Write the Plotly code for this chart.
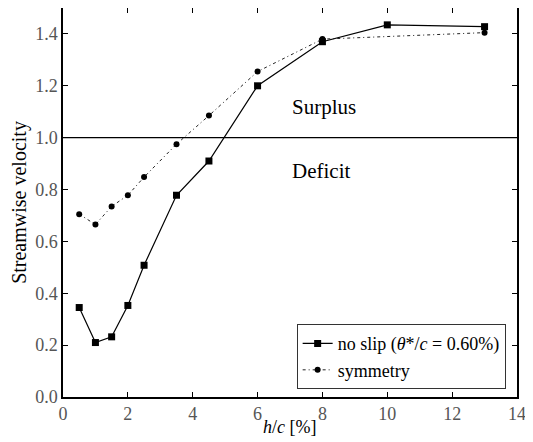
import plotly.graph_objects as go

# h/c [%] and streamwise velocity values
x_noslip = [0.5, 1.0, 1.5, 2.0, 2.5, 3.5, 4.5, 6.0, 8.0, 10.0, 13.0]
y_noslip = [0.345, 0.21, 0.232, 0.353, 0.508, 0.778, 0.91, 1.20, 1.37, 1.435, 1.428]

x_sym = [0.5, 1.0, 1.5, 2.0, 2.5, 3.5, 4.5, 6.0, 8.0, 13.0]
y_sym = [0.705, 0.665, 0.735, 0.778, 0.848, 0.975, 1.085, 1.255, 1.38, 1.405]

x_ticks = [0, 2, 4, 6, 8, 10, 12, 14]
y_ticks = [0.0, 0.2, 0.4, 0.6, 0.8, 1.0, 1.2, 1.4]

FONT = "'Liberation Serif', 'DejaVu Serif', serif"

fig = go.Figure()

fig.add_trace(go.Scatter(
    x=x_noslip, y=y_noslip,
    mode="lines+markers",
    name="no slip (<i>θ</i>*/<i>c</i> = 0.60%)",
    line=dict(color="black", width=1.2),
    marker=dict(symbol="square", size=7, color="black"),
))

fig.add_trace(go.Scatter(
    x=x_sym, y=y_sym,
    mode="lines+markers",
    name="symmetry",
    line=dict(color="#222", width=1, dash="3px,3px,1px,3px"),
    marker=dict(symbol="circle", size=6, color="black"),
))

# reference line at 1.0
fig.add_hline(y=1.0, line_width=1.2, line_color="black")

fig.add_annotation(x=7.0, y=1.12, text="Surplus", showarrow=False,
                   xanchor="left", font=dict(family=FONT, size=21, color="black"))
fig.add_annotation(x=7.0, y=0.87, text="Deficit", showarrow=False,
                   xanchor="left", font=dict(family=FONT, size=21, color="black"))

# x-axis title placed by hand to sit closer to the tick labels
fig.add_annotation(x=0.5, y=-0.078, xref="paper", yref="paper",
                   text="<i>h</i>/<i>c</i> [%]", showarrow=False,
                   xanchor="center", yanchor="middle",
                   font=dict(family=FONT, size=18, color="black"))

axis_common = dict(
    showgrid=False, zeroline=False, automargin=False,
    showline=True, linecolor="black", linewidth=1.5, mirror="ticks",
    ticks="inside", ticklen=5, tickcolor="black",
    tickfont=dict(family=FONT, size=18, color="#555"),
)

fig.update_xaxes(range=[0, 14], tickvals=x_ticks, **axis_common)
fig.update_yaxes(range=[0, 1.5], tickvals=y_ticks, tickformat=".1f",
                 title=dict(text="Streamwise velocity", font=dict(family=FONT, size=20, color="black"), standoff=4),
                 **axis_common)

# page body has an 8px margin, so the figure is shrunk by that much
fig.update_layout(
    width=525, height=434,
    margin=dict(l=55, r=16, t=0, b=45),
    plot_bgcolor="white", paper_bgcolor="white",
    font=dict(family=FONT, size=18, color="black"),
    legend=dict(x=0.975, y=0.02, xanchor="right", yanchor="bottom",
                bgcolor="white", bordercolor="#333", borderwidth=1,
                font=dict(family=FONT, size=18, color="black"),
                tracegroupgap=0),
    showlegend=True,
)

fig.write_html("out.html")
